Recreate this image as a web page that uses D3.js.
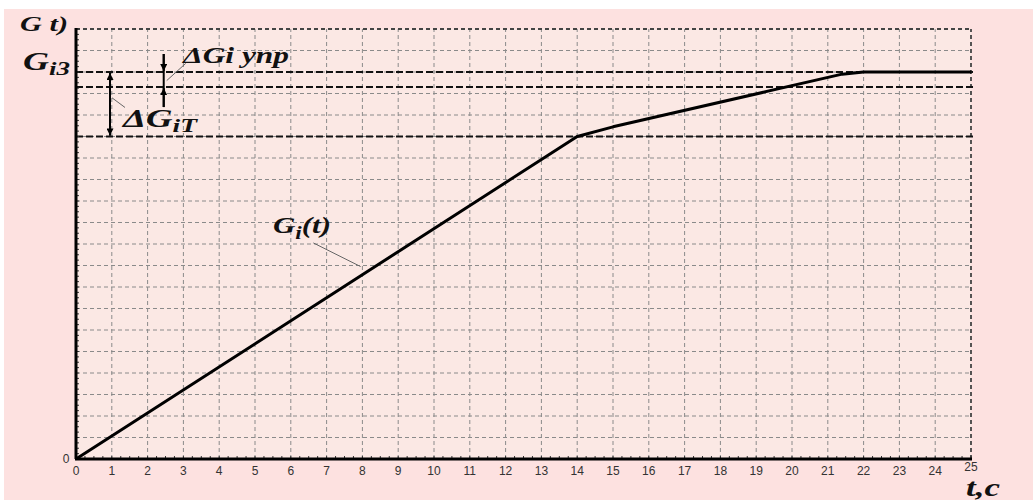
<!DOCTYPE html>
<html>
<head>
<meta charset="utf-8">
<script src="https://cdn.jsdelivr.net/npm/d3@7"></script>
<style>
  html, body { margin: 0; padding: 0; background: #ffffff; }
  svg { display: block; }
</style>
</head>
<body>
<div id="chart"></div>
<script>
// data
var tValues = [0, 14, 15, 21.4, 22, 25];
var gValues = [0, 15, 15.45, 17.9, 18, 18];
var xTicks = d3.range(0, 26);
var yGrid = d3.range(0, 21);
var levels = [15, 17.3, 18];      // G_i3 - dG_iT, G_i3 - dG_i ynp, G_i3

var W = 1033, H = 500;
var margin = { top: 29, right: 62, bottom: 41, left: 76 },
    width = W - margin.left - margin.right,
    height = H - margin.top - margin.bottom;

var x = d3.scaleLinear().domain([0, 25]).range([0, width]);
var y = d3.scaleLinear().domain([0, 20]).range([height, 0]);

var root = d3.select('#chart').append('svg')
    .attr('width', W).attr('height', H);

// page background
root.append('rect').attr('x', 0).attr('y', 0).attr('width', W).attr('height', H).attr('fill', '#ffffff');
root.append('rect').attr('x', 4).attr('y', 9).attr('width', W - 4).attr('height', H - 9).attr('fill', '#fde1e0');

var svg = root.append('g')
    .attr('transform', 'translate(' + margin.left + ',' + margin.top + ')');

// plot area
svg.append('rect')
    .attr('width', width).attr('height', height)
    .attr('fill', '#fbe8e4');

// vertical grid
svg.selectAll('.vgrid').data(xTicks.slice(1)).enter().append('line')
    .attr('x1', d => x(d)).attr('x2', d => x(d))
    .attr('y1', y(0)).attr('y2', y(20))
    .attr('stroke', d => d === 25 ? '#444' : '#8a8a8a')
    .attr('stroke-width', d => d === 25 ? 1.8 : 1)
    .attr('stroke-dasharray', '4,3');

// horizontal grid
svg.selectAll('.hgrid').data(yGrid.slice(1)).enter().append('line')
    .attr('x1', x(0)).attr('x2', x(25))
    .attr('y1', d => y(d)).attr('y2', d => y(d))
    .attr('stroke', d => d === 20 ? '#444' : '#8a8a8a')
    .attr('stroke-width', d => d === 20 ? 1.8 : 1)
    .attr('stroke-dasharray', '4,3');

// reference levels
svg.selectAll('.level').data(levels).enter().append('line')
    .attr('x1', x(0)).attr('x2', x(25) + 3)
    .attr('y1', d => y(d)).attr('y2', d => y(d))
    .attr('stroke', '#111')
    .attr('stroke-width', 2)
    .attr('stroke-dasharray', '7,3');

// minor ticks on axes
svg.selectAll('.mx').data(d3.range(0, 25.01, 0.25)).enter().append('line')
    .attr('x1', d => x(d)).attr('x2', d => x(d))
    .attr('y1', y(0)).attr('y2', y(0) - 3)
    .attr('stroke', '#333').attr('stroke-width', 1);
svg.selectAll('.my').data(d3.range(0, 20.01, 0.25)).enter().append('line')
    .attr('x1', x(0)).attr('x2', x(0) + 3)
    .attr('y1', d => y(d)).attr('y2', d => y(d))
    .attr('stroke', '#333').attr('stroke-width', 1);

// axes lines
svg.append('line')
    .attr('x1', x(0) - 1).attr('x2', x(25) + 1)
    .attr('y1', y(0)).attr('y2', y(0))
    .attr('stroke', '#000').attr('stroke-width', 3);
svg.append('line')
    .attr('x1', x(0)).attr('x2', x(0))
    .attr('y1', y(0)).attr('y2', y(20) - 1)
    .attr('stroke', '#000').attr('stroke-width', 3);

// x tick labels
svg.selectAll('.xl').data(xTicks).enter().append('text')
    .attr('x', d => x(d))
    .attr('y', d => d === 25 ? y(0) + 11.5 : y(0) + 16)
    .attr('text-anchor', 'middle')
    .attr('font-family', 'Liberation Sans, Arial, sans-serif')
    .attr('font-size', 12)
    .attr('fill', '#333')
    .text(d => d);

// y zero label
svg.append('text')
    .attr('x', x(0) - 10).attr('y', y(0) + 4)
    .attr('text-anchor', 'middle')
    .attr('font-family', 'Liberation Sans, Arial, sans-serif')
    .attr('font-size', 12).attr('fill', '#333')
    .text('0');

// curve
var line = d3.line().x((d, i) => x(d)).y((d, i) => y(gValues[i]));
svg.append('path')
    .datum(tValues)
    .attr('d', line)
    .attr('fill', 'none')
    .attr('stroke', '#000')
    .attr('stroke-width', 3)
    .attr('stroke-linejoin', 'round');

// arrow markers
var defs = root.append('defs');
defs.append('marker')
    .attr('id', 'arr')
    .attr('viewBox', '0 0 10 10')
    .attr('refX', 10).attr('refY', 5)
    .attr('markerWidth', 10).attr('markerHeight', 7)
    .attr('markerUnits', 'userSpaceOnUse')
    .attr('orient', 'auto')
    .append('path').attr('d', 'M0,0 L10,5 L0,10 Z').attr('fill', '#000');

// dG_iT double arrow
var aX1 = x(0.95);
svg.append('line')
    .attr('x1', aX1).attr('x2', aX1)
    .attr('y1', y(levels[0]) - 1).attr('y2', y(levels[2]) + 1)
    .attr('stroke', '#000').attr('stroke-width', 2)
    .attr('marker-end', 'url(#arr)');
svg.append('line')
    .attr('x1', aX1).attr('x2', aX1)
    .attr('y1', y(levels[2]) + 1).attr('y2', y(levels[0]) - 1)
    .attr('stroke', '#000').attr('stroke-width', 2)
    .attr('marker-end', 'url(#arr)');

// dG_i ynp arrows
var aX2 = x(2.45);
svg.append('line')
    .attr('x1', aX2).attr('x2', aX2)
    .attr('y1', y(levels[2]) - 18).attr('y2', y(levels[1]) + 20)
    .attr('stroke', '#000').attr('stroke-width', 2);
svg.append('line')
    .attr('x1', aX2).attr('x2', aX2)
    .attr('y1', y(levels[2]) - 18).attr('y2', y(levels[2]) - 1)
    .attr('stroke', '#000').attr('stroke-width', 2)
    .attr('marker-end', 'url(#arr)');
svg.append('line')
    .attr('x1', aX2).attr('x2', aX2)
    .attr('y1', y(levels[1]) + 20).attr('y2', y(levels[1]) + 1)
    .attr('stroke', '#000').attr('stroke-width', 2)
    .attr('marker-end', 'url(#arr)');

// leader lines
svg.append('line')
    .attr('x1', aX1 + 2).attr('y1', y(16.8))
    .attr('x2', aX1 + 15).attr('y2', y(16.35))
    .attr('stroke', '#666').attr('stroke-width', 1);
svg.append('line')
    .attr('x1', aX2 + 3).attr('y1', y(17.6))
    .attr('x2', aX2 + 22).attr('y2', y(18.4))
    .attr('stroke', '#666').attr('stroke-width', 1);
svg.append('line')
    .attr('x1', x(6.63)).attr('y1', y(10.05))
    .attr('x2', x(7.95)).attr('y2', y(8.95))
    .attr('stroke', '#666').attr('stroke-width', 1);

// labels
var serif = 'Liberation Serif, Times New Roman, serif';
function label(px, py, parts, size, len) {
  var t = root.append('text')
      .attr('x', px).attr('y', py)
      .attr('font-family', serif)
      .attr('font-style', 'italic')
      .attr('font-weight', 'bold')
      .attr('font-size', size)
      .attr('fill', '#111');
  parts.forEach(function (p) {
    var ts = t.append('tspan').text(p.s);
    if (p.small) ts.attr('font-size', size * 0.75);
    if (p.dy) ts.attr('dy', p.dy);
  });
  if (len) t.attr('textLength', len).attr('lengthAdjust', 'spacingAndGlyphs');
}
label(20, 31, [{ s: 'G t)' }], 21, 48);
label(23, 70, [{ s: 'G' }, { s: 'i3', small: true, dy: 5 }], 25, 47);
label(183, 63, [{ s: '\u0394Gi упр' }], 24, 106);
label(123, 127, [{ s: '\u0394G' }, { s: 'iT', small: true, dy: 5 }], 25, 74);
label(273, 233, [{ s: 'G' }, { s: 'i', small: true, dy: 6 }, { s: '(t)', dy: -6 }], 24, 58);
label(966, 496, [{ s: 't,c' }], 25, 34);
</script>
</body>
</html>
